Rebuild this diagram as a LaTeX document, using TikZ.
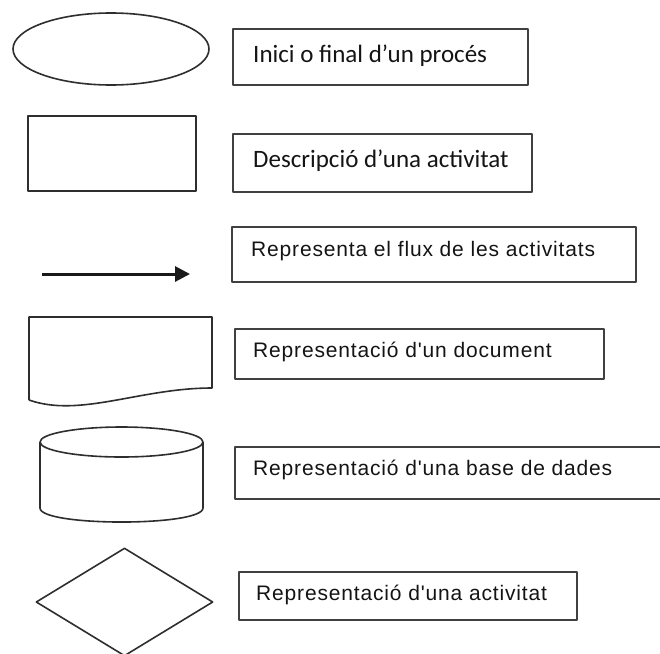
\documentclass[tikz,border=0pt]{standalone}
\usepackage{fontspec}
\usetikzlibrary{shapes.geometric,arrows.meta}
\newfontfamily\calibrifont{Carlito}
\newfontfamily\arialfont[Ligatures={TeXOff,CommonOff},LetterSpace=4]{Liberation Sans}

\tikzset{
  symbolline/.style={draw=black!82, line width=1.6pt, fill=white},
  legendbox/.style={draw=black!75, line width=2pt, inner sep=0pt},
  calibritext/.style={anchor=base west, inner sep=0pt, text=black!92,
    font=\calibrifont\fontsize{25}{30}\selectfont},
  arialtext/.style={anchor=base west, inner sep=0pt, text=black!92,
    font=\arialfont\fontsize{21}{25}\selectfont},
}

\begin{document}
\begin{tikzpicture}[x=1pt, y=-1pt, line join=round]
\useasboundingbox (0,0) rectangle (660,653);
\clip (0,0) rectangle (660,653);

% --- symbols (left column) ---
\node[symbolline, ellipse, inner sep=0pt, minimum width=196pt, minimum height=72pt] (startend) at (111,49) {};
\node[symbolline, rectangle, inner sep=0pt, minimum width=168pt, minimum height=75pt] (activity) at (112,153.5) {};

\coordinate (flowA) at (42,274);
\coordinate (flowB) at (190,274);
\draw[black!90, line width=3pt, -{Triangle[length=15pt, width=15pt]}] (flowA) -- (flowB);

% document: flat top, wavy bottom
\coordinate (docA) at (29,400);
\coordinate (docB) at (212,388);
\draw[symbolline] (docA) -- (29,317) -- (212,317) -- (docB)
  .. controls (140,388) and (80,418) .. (docA);

% database cylinder
\coordinate (dbL) at (40,508);
\coordinate (dbR) at (203,508);
\draw[symbolline] (40,442) -- (dbL) .. controls (40,526.7) and (203,526.7) .. (dbR) -- (203,442);
\node[symbolline, ellipse, inner sep=0pt, minimum width=163pt, minimum height=30pt] (dbtop) at (121.5,442) {};

\node[symbolline, diamond, inner sep=0pt, minimum width=177pt, minimum height=108pt] (decision) at (124.5,602) {};

% --- legend boxes (right column) ---
\node[legendbox, minimum width=295pt, minimum height=56pt] (box1) at (380.5,57) {};
\node[legendbox, minimum width=299pt, minimum height=58pt] (box2) at (382.5,163) {};
\node[legendbox, minimum width=404pt, minimum height=55pt] (box3) at (434,254.5) {};
\node[legendbox, minimum width=369pt, minimum height=50pt] (box4) at (419.5,354) {};
\node[legendbox, minimum width=430pt, minimum height=52pt] (box5) at (450,473) {};
\node[legendbox, minimum width=338pt, minimum height=48pt] (box6) at (408,596) {};

\node[calibritext] (txt1) at (253,62) {Inici o final d’un procés};
\node[calibritext] (txt2) at (253,167) {Descripció d’una activitat};
\node[arialtext] (txt3) at (251,256) {Representa el flux de les activitats};
\node[arialtext] (txt4) at (253,357) {Representació d'un document};
\node[arialtext] (txt5) at (253,475) {Representació d'una base de dades};
\node[arialtext] (txt6) at (256,600) {Representació d'una activitat};
\end{tikzpicture}
\end{document}
